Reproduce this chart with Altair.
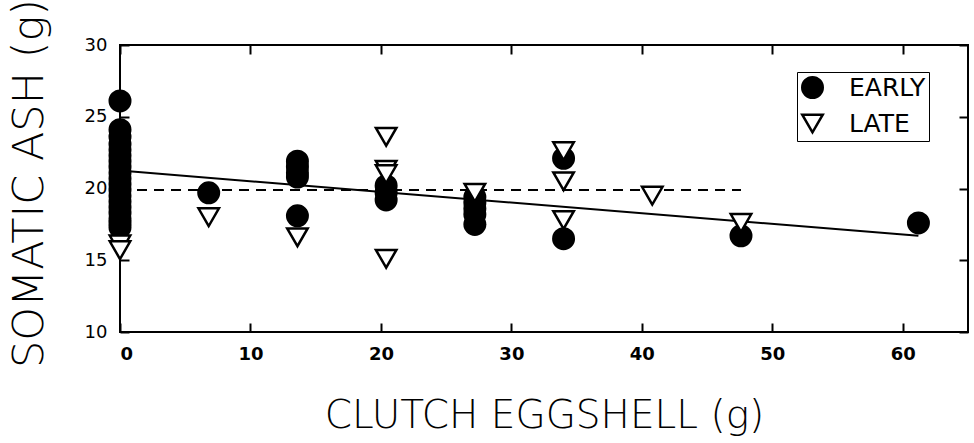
import altair as alt
import pandas as pd

# ---- data ----
early_x = [0, 0, 0, 0, 0, 0, 0, 0, 0, 0, 0, 0, 0, 0, 0, 0, 0, 0, 0,
           6.8,
           13.6, 13.6, 13.6, 13.6, 13.6,
           20.4, 20.4, 20.4,
           27.2, 27.2, 27.2, 27.2, 27.2,
           34.0, 34.0,
           47.6,
           61.2]
early_y = [26.1, 24.1, 23.6, 23.1, 22.7, 22.3, 21.9, 21.5, 21.1, 20.7, 20.3, 19.9,
           19.5, 19.1, 18.7, 18.3, 17.9, 17.6, 17.3,
           19.7,
           21.9, 21.5, 21.1, 20.8, 18.1,
           20.2, 19.7, 19.2,
           19.4, 19.0, 18.6, 18.2, 17.5,
           22.1, 16.5,
           16.7,
           17.6]
late_x = [0, 0,
          6.8,
          13.6,
          20.4, 20.4, 20.4, 20.4,
          27.2,
          34.0, 34.0, 34.0,
          40.8,
          47.6]
late_y = [16.1, 15.7,
          18.0,
          16.6,
          23.6, 21.3, 21.0, 15.1,
          19.7,
          22.6, 20.5, 17.8,
          19.5,
          17.6]
fit_x = [0, 61.2]
fit_y = [21.25, 16.7]
mean_x = [0, 47.6]
mean_y = [19.9, 19.9]
x_ticks = [0, 10, 20, 30, 40, 50, 60]
y_ticks = [10, 15, 20, 25, 30]
groups = ["EARLY", "LATE"]

W, H = 848, 287
FONT = "DejaVu Sans"

pts = pd.DataFrame({
    "x": early_x + late_x,
    "y": early_y + late_y,
    "group": [groups[0]] * len(early_x) + [groups[1]] * len(late_x),
})
fit = pd.DataFrame({"x": fit_x, "y": fit_y})
mean = pd.DataFrame({"x": mean_x, "y": mean_y})

xs = alt.Scale(domain=[0, 65], nice=False, zero=False)
ys = alt.Scale(domain=[10, 30], nice=False, zero=False)

def tick_axis(orient, values, offset):
    return alt.Axis(orient=orient, values=values, offset=offset, labels=False,
                    domain=False, grid=False, ticks=True, tickSize=9,
                    tickWidth=2, tickColor="black", title=None)

solid = alt.Chart(fit).mark_line(color="black", strokeWidth=2).encode(
    x=alt.X("x:Q", scale=xs, axis=tick_axis("top", x_ticks, -H)),
    y=alt.Y("y:Q", scale=ys, axis=tick_axis("right", y_ticks, -W)),
)

dashed = alt.Chart(mean).mark_line(color="black", strokeWidth=2, strokeDash=[10, 7]).encode(
    x=alt.X("x:Q", scale=xs, axis=tick_axis("bottom", x_ticks, -H)),
    y=alt.Y("y:Q", scale=ys, axis=tick_axis("left", y_ticks, -W)),
)

leg = alt.Legend(title=None, orient="none", legendX=677, legendY=27,
                 strokeColor="black", padding=3, cornerRadius=0,
                 symbolSize=420, symbolStrokeWidth=2.5,
                 labelFont=FONT, labelFontSize=25, labelFontWeight="normal",
                 labelColor="black", labelOffset=24, rowPadding=6)

points = alt.Chart(pts).mark_point(filled=True, size=420,
                                    strokeWidth=2.5, opacity=1).encode(
    x=alt.X("x:Q", scale=xs, axis=alt.Axis(
        orient="bottom", values=x_ticks, ticks=False, domain=False, grid=False,
        labelFont=FONT, labelFontSize=18, labelFontWeight="bold", labelColor="black",
        labelPadding=13, title="CLUTCH EGGSHELL (g)", titleFont=FONT,
        titleFontSize=39, titleFontWeight=200, titleColor="black",
        titleY=95, titleBaseline="alphabetic")),
    y=alt.Y("y:Q", scale=ys, axis=alt.Axis(
        orient="left", values=y_ticks, ticks=False, domain=False, grid=False,
        labelFont=FONT, labelFontSize=18, labelColor="black", labelPadding=13,
        title="SOMATIC ASH (g)", titleFont=FONT, titleFontSize=43,
        titleFontWeight=200, titleColor="black", titleX=-78, titleY=138,
        titleBaseline="alphabetic")),
    shape=alt.Shape("group:N", scale=alt.Scale(domain=groups, range=["circle", "triangle-down"]), legend=leg),
    fill=alt.Fill("group:N", scale=alt.Scale(domain=groups, range=["black", "white"]), legend=leg),
    stroke=alt.Stroke("group:N", scale=alt.Scale(domain=groups, range=["black", "black"]), legend=leg),
)

chart = alt.layer(solid, dashed, points).resolve_axis(
    x="independent", y="independent"
).properties(
    width=W, height=H,
    background="white",
    autosize=alt.AutoSizeParams(type="none"),
    padding={"left": 120, "top": 45, "right": 6, "bottom": 111},
).configure_view(stroke="black", strokeWidth=2)

chart.save("out.html", embed_options={"renderer": "svg", "actions": False})
